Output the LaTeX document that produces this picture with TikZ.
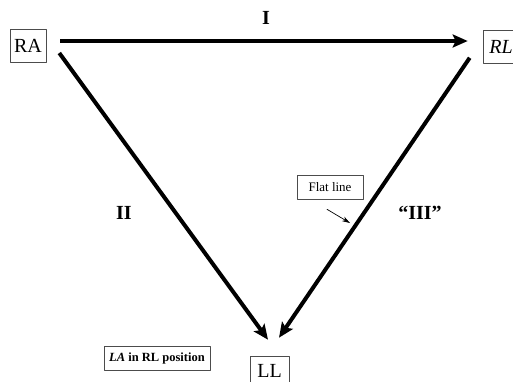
\documentclass[tikz,border=0pt]{standalone}
\usepackage{fontspec}
\setmainfont{Liberation Serif}
\usetikzlibrary{arrows.meta}
\begin{document}
\begin{tikzpicture}[x=1pt, y=-1pt, line join=round, line cap=round,
		>={Stealth[length=15pt, width=13pt, inset=3pt]},
		lead/.style={draw=black!70, line width=0.6pt, inner sep=2pt, minimum width=36pt, minimum height=33pt, font=\fontsize{20}{22}\selectfont},
		note/.style={draw=black!70, line width=0.6pt, inner sep=2pt, minimum height=24pt},
		wave/.style={->, line width=4pt, line cap=butt},
		tag/.style={font=\fontsize{20}{22}\selectfont\bfseries}]
	\useasboundingbox (0,0) rectangle (513,381);
	\node[lead] (ra) at (28,45.5) {RA};
	\node[lead] (rl) at (501,47) {\itshape RL};
	\node[lead, minimum width=39pt, minimum height=29pt] (ll) at (269.5,370.5) {LL};
	\node[note, minimum width=66pt, font=\fontsize{13}{15}\selectfont] (flat) at (330,187) {Flat line};
	\node[note, minimum width=106pt, font=\fontsize{12.5}{14}\selectfont\bfseries] (pos) at (157,358) {\textit{LA} in RL position};
	\draw[wave] ([shift={(14,-4.5)}]ra.east) -- ([shift={(-15,-6)}]rl.west);
	\draw[wave] ([shift={(13,7.5)}]ra.east) -- ([shift={(-1.5,-16)}]ll.north);
	\draw[wave] ([shift={(-13,-6)}]rl.south west) -- ([shift={(9.5,-18)}]ll.north);
	\node[tag] (lead1) at (266,18) {I};
	\node[tag] (lead2) at (124,213) {II};
	\node[tag] (lead3) at (420,213) {“III”};
	\coordinate (dip) at (350,223);
	\draw[->, >={Stealth[length=8pt, width=5pt]}, line width=0.7pt] ([shift={(-3,10)}]flat.south) -- (dip);
\end{tikzpicture}
\end{document}
